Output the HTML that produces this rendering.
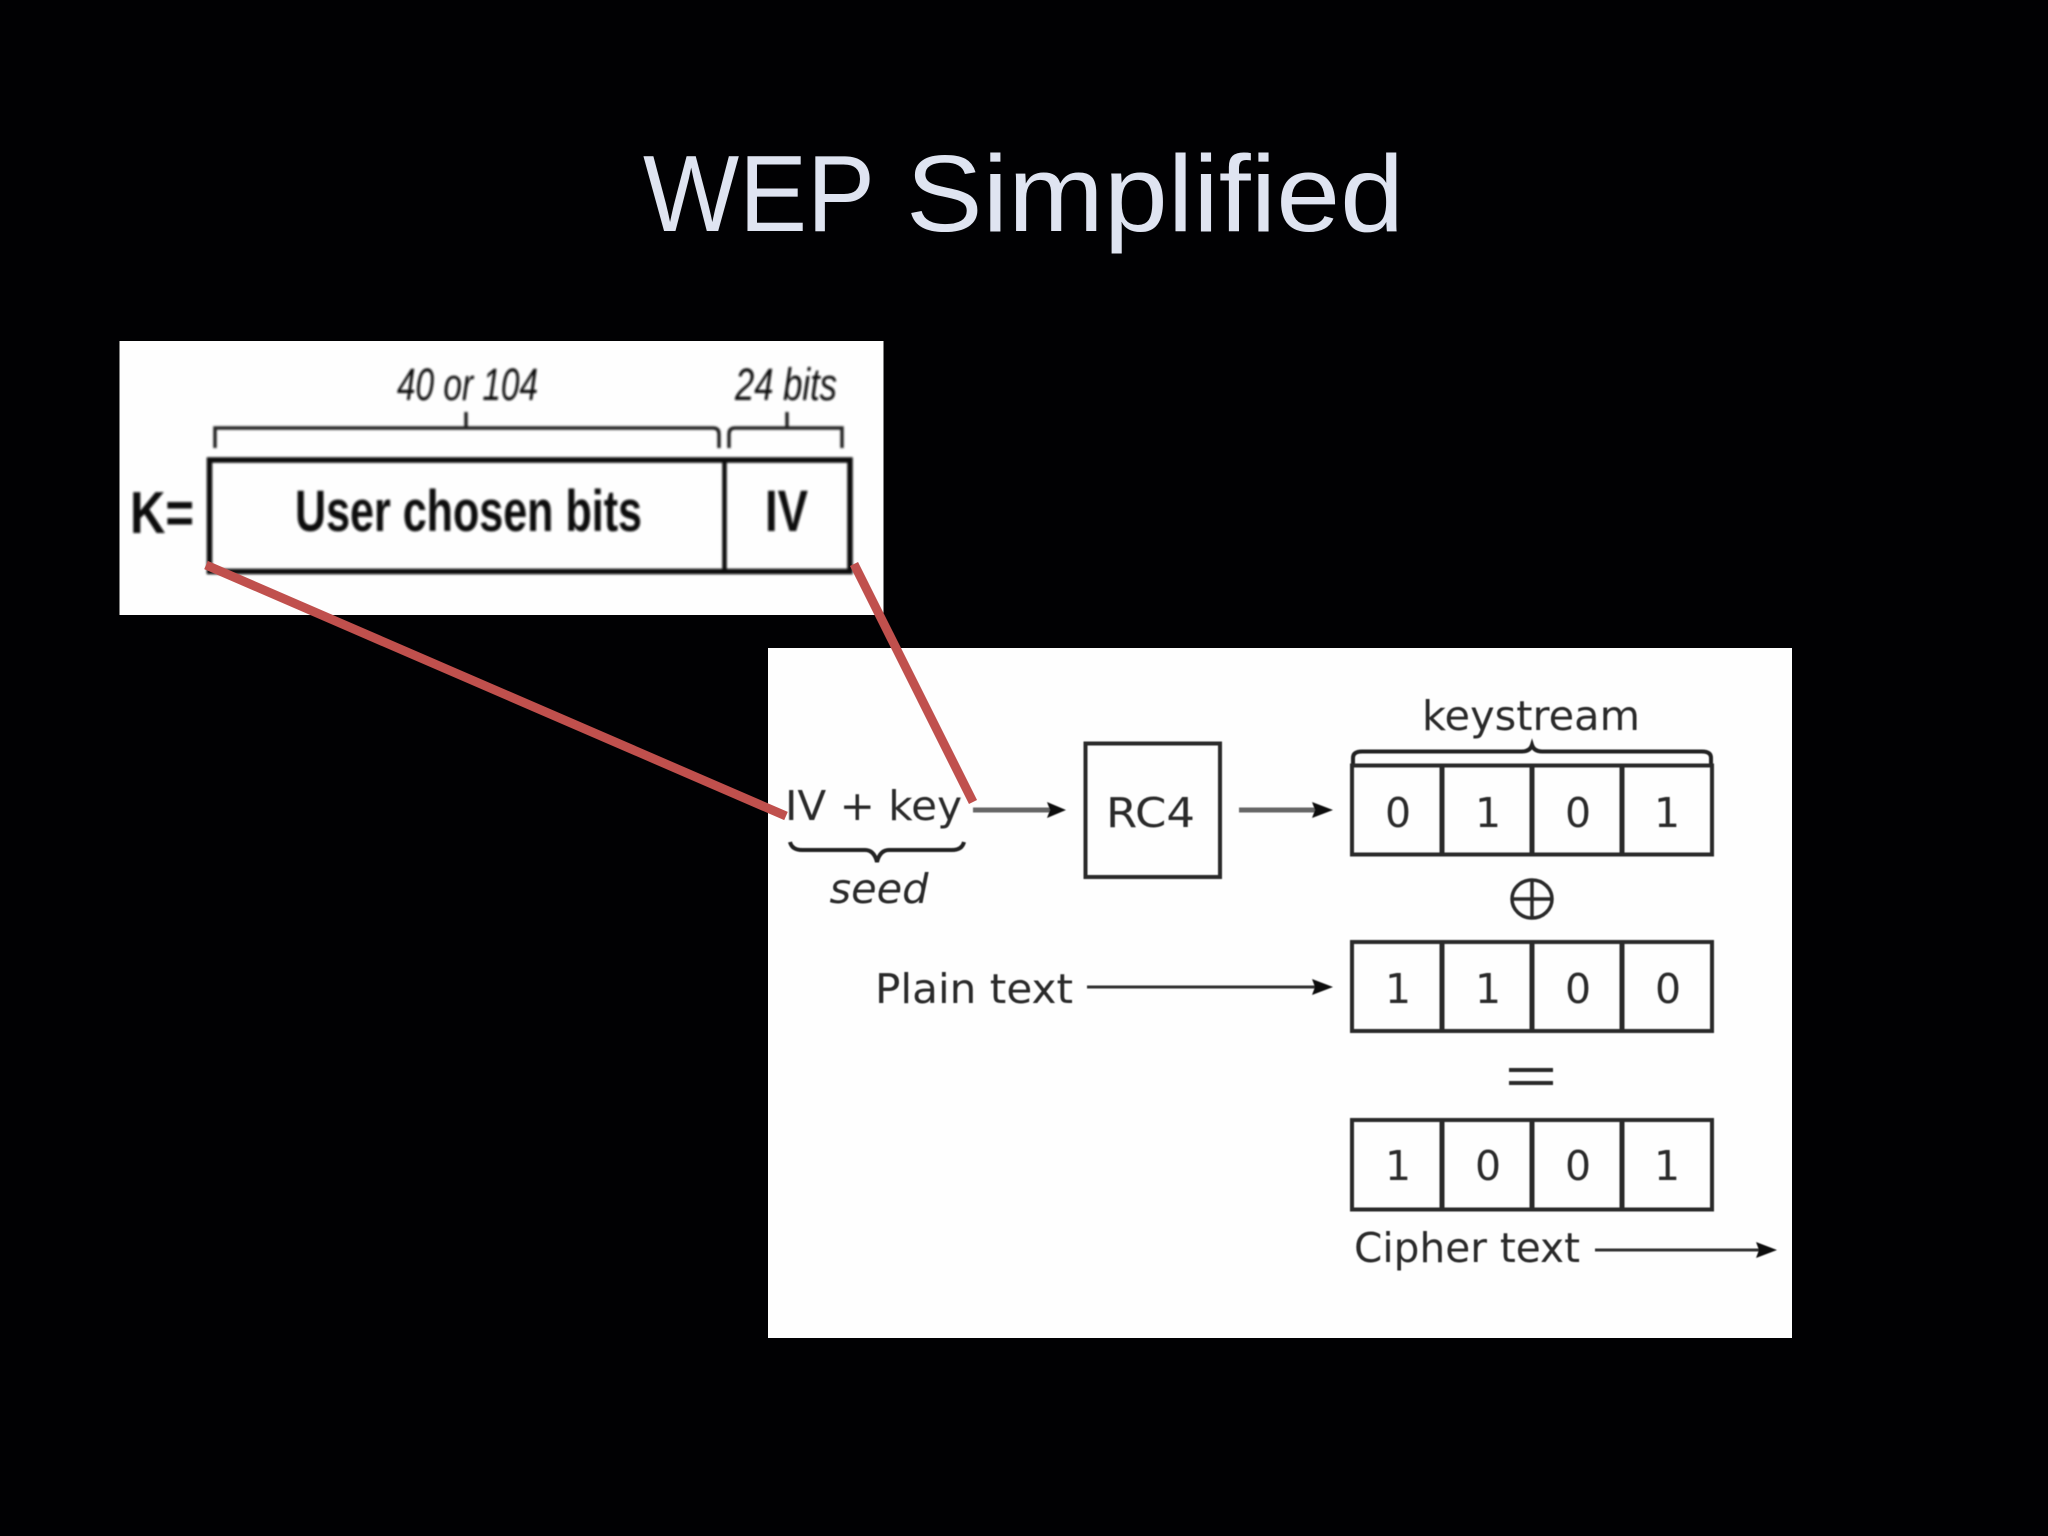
<!DOCTYPE html>
<html lang="en">
<head>
<meta charset="utf-8">
<title>WEP Simplified</title>
<style>
html,body{margin:0;padding:0;background:#010103;width:2048px;height:1536px;overflow:hidden}
svg{display:block}
.d{font-family:"DejaVu Sans",sans-serif;fill:#2a2a2a}
.k{font-family:"Liberation Sans",sans-serif;fill:#111}
</style>
</head>
<body>
<svg xmlns="http://www.w3.org/2000/svg" width="2048" height="1536" viewBox="0 0 2048 1536">
<defs>
<filter id="b" x="-5%" y="-5%" width="110%" height="110%"><feGaussianBlur stdDeviation="1"/></filter>
<filter id="c" x="-5%" y="-5%" width="110%" height="110%"><feGaussianBlur stdDeviation="0.6"/></filter>
</defs>
<rect width="2048" height="1536" fill="#010103"/>

<g font-family="'Liberation Sans',sans-serif" font-size="109" fill="#dfe4f1" lengthAdjust="spacingAndGlyphs">
  <text x="643" y="231" textLength="232" lengthAdjust="spacingAndGlyphs">WEP</text>
  <text x="906" y="231" textLength="498" lengthAdjust="spacingAndGlyphs">Simplified</text>
</g>

<!-- top panel -->
<rect x="119.5" y="341" width="764" height="274" fill="#fefefe"/>
<g filter="url(#b)">
  <g fill="none" stroke="#222" stroke-width="3.500">
    <path d="M215 448V428H713Q719 428 719 434V448"/>
    <path d="M729 448V434Q729 428 735 428H842V448"/>
    <path d="M466 412V428M787 412V428"/>
  </g>
  <rect x="209.500" y="460" width="640.500" height="111.500" fill="none" stroke="#0c0c0c" stroke-width="5.500"/>
  <path d="M724.500 460V571" stroke="#0c0c0c" stroke-width="4.500"/>
  <text class="k" x="397" y="400" font-size="45" font-style="italic" fill="#333" textLength="141" lengthAdjust="spacingAndGlyphs">40 or 104</text>
  <text class="k" x="735" y="400" font-size="45" font-style="italic" fill="#333" textLength="102" lengthAdjust="spacingAndGlyphs">24 bits</text>
  <text class="k" x="130" y="533" font-size="59" font-weight="bold" textLength="64" lengthAdjust="spacingAndGlyphs">K=</text>
  <text class="k" x="295" y="531" font-size="58" font-weight="bold" textLength="347" lengthAdjust="spacingAndGlyphs">User chosen bits</text>
  <text class="k" x="765" y="531" font-size="58" font-weight="bold" textLength="43" lengthAdjust="spacingAndGlyphs">IV</text>
</g>

<!-- lower panel -->
<rect x="768" y="648" width="1024" height="690" fill="#fefefe"/>
<g filter="url(#c)">
  <text class="d" x="1422" y="730" font-size="41" textLength="218" lengthAdjust="spacingAndGlyphs">keystream</text>
  <path d="M1353 764V758Q1353 751.500 1362 751.500H1522Q1530 751.500 1532 745Q1534 751.500 1542 751.500H1702Q1711 751.500 1711 758V764" fill="none" stroke="#222" stroke-width="4"/>

  <g fill="none" stroke="#2a2a2a" stroke-width="4">
    <rect x="1352" y="765.500" width="360" height="89"/>
    <rect x="1352" y="942" width="360" height="89"/>
    <rect x="1352" y="1120" width="360" height="89.500"/>
    <path d="M1442 765V854M1532 765V854M1622 765V854M1442 942V1030M1532 942V1030M1622 942V1030M1442 1120V1209M1532 1120V1209M1622 1120V1209" stroke-width="5"/>
    <rect x="1085.500" y="743.500" width="134.500" height="133.500"/>
  </g>

  <g class="d" font-size="41" text-anchor="middle">
    <text x="1398" y="827">0</text><text x="1488" y="827">1</text><text x="1578" y="827">0</text><text x="1667" y="827">1</text>
    <text x="1398" y="1003">1</text><text x="1488" y="1003">1</text><text x="1578" y="1003">0</text><text x="1668" y="1003">0</text>
    <text x="1398" y="1180">1</text><text x="1488" y="1180">0</text><text x="1578" y="1180">0</text><text x="1667" y="1180">1</text>
  </g>

  <g fill="none" stroke="#2a2a2a" stroke-width="3.500">
    <ellipse cx="1532" cy="899" rx="20" ry="19"/>
    <path d="M1512 899H1552M1532 880V918"/>
    <path d="M1509 1070H1553M1509 1083H1553" stroke-width="4"/>
  </g>

  <text class="d" x="1106" y="827" font-size="41" textLength="89" lengthAdjust="spacingAndGlyphs">RC4</text>
  <text class="d" x="785" y="820" font-size="41" textLength="177" lengthAdjust="spacingAndGlyphs">IV + key</text>
  <text class="d" x="829.500" y="903" font-size="41" font-style="italic" textLength="99" lengthAdjust="spacingAndGlyphs">seed</text>
  <text class="d" x="875" y="1003" font-size="41" textLength="198" lengthAdjust="spacingAndGlyphs">Plain text</text>
  <text class="d" x="1354" y="1262" font-size="41" textLength="226" lengthAdjust="spacingAndGlyphs">Cipher text</text>

  <path d="M790 842Q792 850 802 850H865Q874 850 877 862Q880 850 889 850H952Q962 850 964 842" fill="none" stroke="#222" stroke-width="4"/>

  <g stroke="#666" stroke-width="5">
    <path d="M973 810H1050"/>
    <path d="M1239 810H1315"/>
  </g>
  <g stroke="#333" stroke-width="3">
    <path d="M1087 987H1316"/>
    <path d="M1595 1250H1760"/>
  </g>
  <g fill="#111">
    <path d="M1047 802L1066 810L1047 818L1050 810Z"/>
    <path d="M1312 979L1333 987L1312 995L1315 987Z"/>
    <path d="M1312 802L1333 810L1312 818L1315 810Z"/>
    <path d="M1756 1242L1777 1250L1756 1258L1759 1250Z"/>
  </g>
</g>

<!-- red connectors -->
<g stroke="#c0504d" stroke-width="9" fill="none">
  <path d="M206 565L786 816"/>
  <path d="M854 564L973 802"/>
</g>
</svg>
</body>
</html>
